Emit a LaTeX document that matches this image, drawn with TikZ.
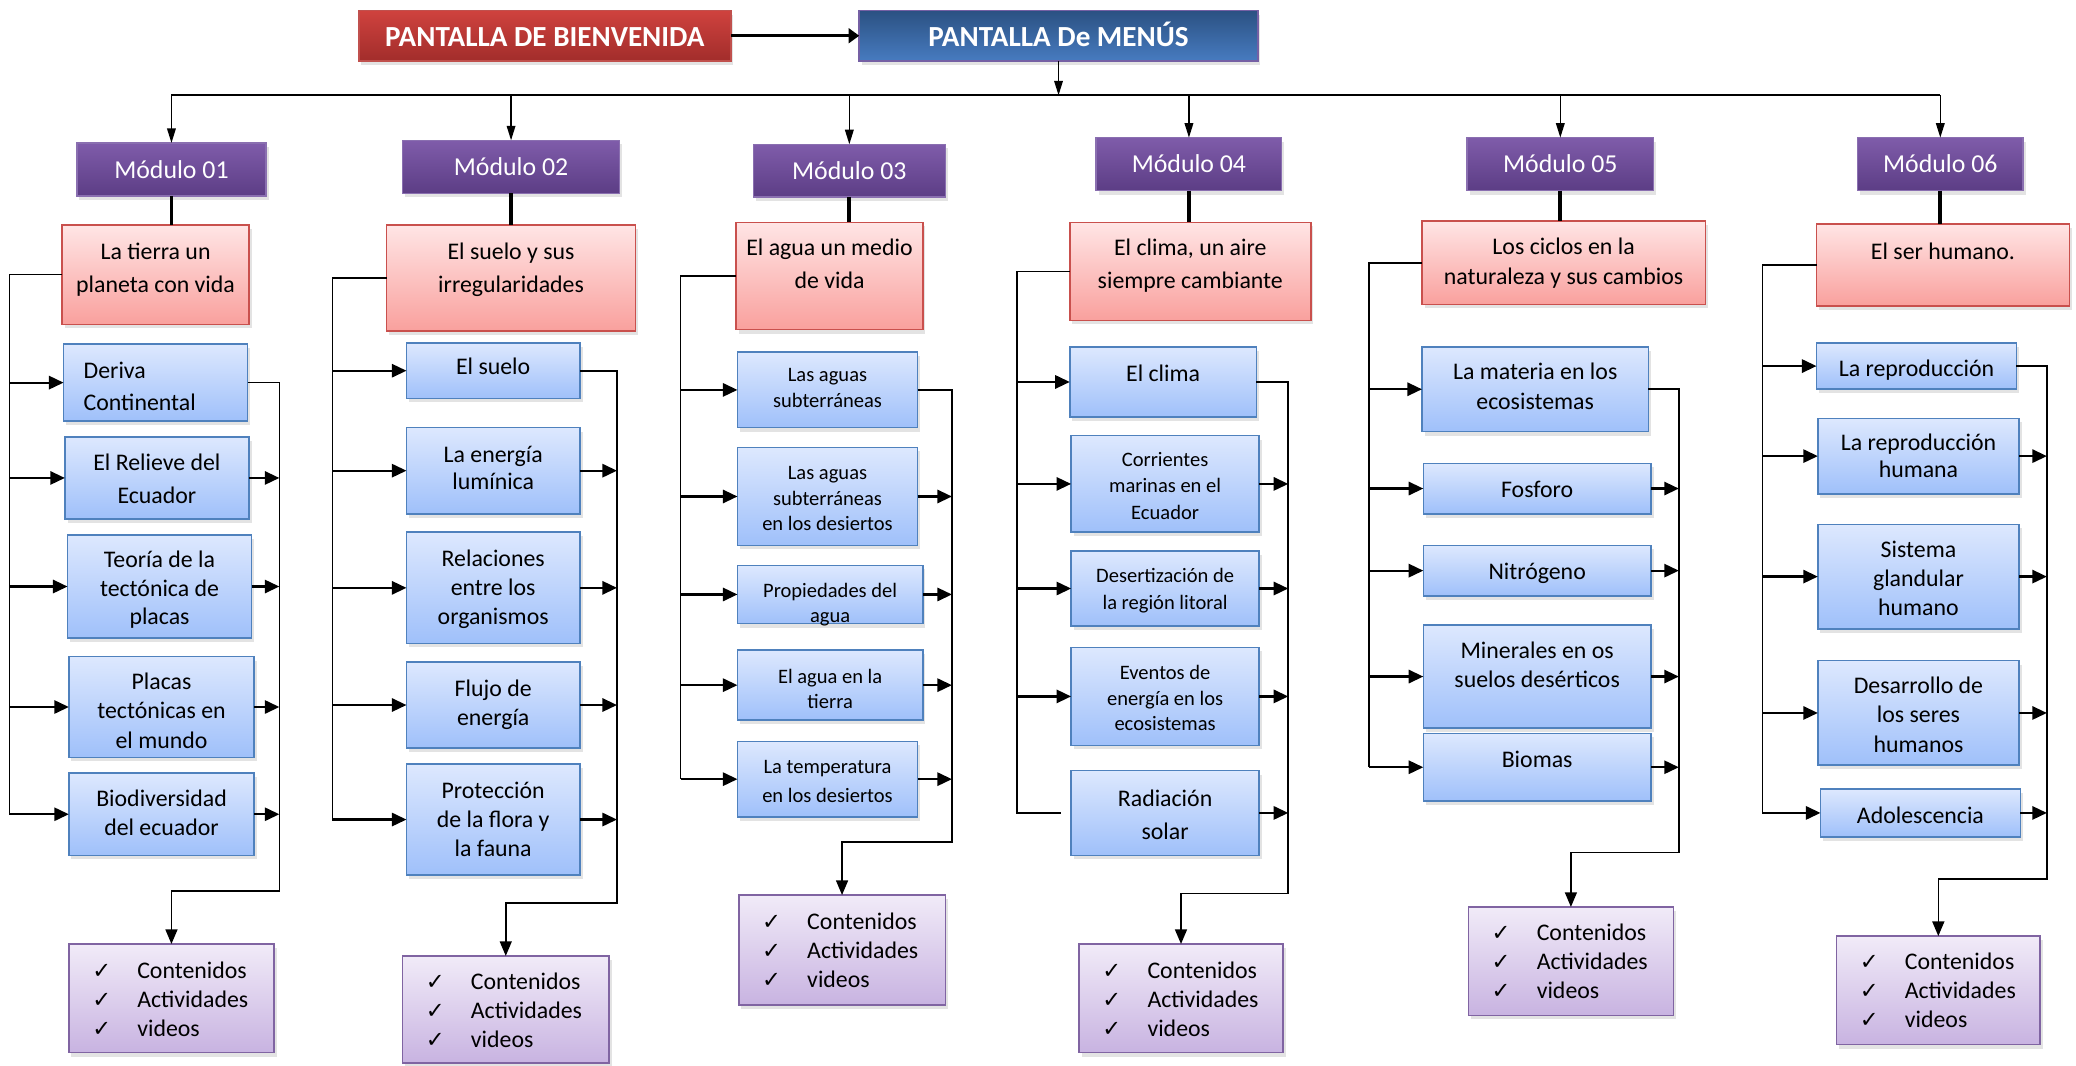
\documentclass[tikz,border=0pt]{standalone}
\usepackage{fontspec}
\setmainfont{Carlito}
\newfontfamily\symfont{DejaVu Sans}
\usetikzlibrary{arrows.meta,fit,shadows}
\definecolor{hredT}{HTML}{CF423E}
\definecolor{hredB}{HTML}{A22D2B}
\definecolor{hredD}{HTML}{C0504D}
\definecolor{hblueT}{HTML}{2B5182}
\definecolor{hblueB}{HTML}{477BC0}
\definecolor{hblueD}{HTML}{7560A4}
\definecolor{modT}{HTML}{7F5CAA}
\definecolor{modB}{HTML}{5C3D85}
\definecolor{modD}{HTML}{8A6FB0}
\definecolor{pinkT}{HTML}{FFE5E5}
\definecolor{pinkB}{HTML}{F9A09D}
\definecolor{pinkD}{HTML}{C9504D}
\definecolor{bluT}{HTML}{DDE8FE}
\definecolor{bluB}{HTML}{9FC0FA}
\definecolor{bluD}{HTML}{4F81BD}
\definecolor{conT}{HTML}{F1EBF8}
\definecolor{conB}{HTML}{C8B3E1}
\definecolor{conD}{HTML}{8064A2}
\newcommand\fs[2]{\fontsize{#1}{#2}\selectfont}
\newcommand\chk{\makebox[34pt][l]{\symfont\fontsize{17}{17}\selectfont ✓}}
\newcommand\mkbox[7]{%
  \node[#2, fit={(#3) (#4)}] (#1) {};
  \node[txt, font=#5] (#1t) at (#1.north |- 0,#6) {\begin{tabular}[t]{@{}c@{}}#7\end{tabular}};
}
\newcommand\mkcont[4]{%
  \node[conbox, fit={(#2) (#3)}] (#1) {};
  \node[txt, anchor=base west, xshift=17.5pt, font=\fs{18}{22}] (#1t) at (#1.west |- 0,#4)
    {\begin{tabular}[t]{@{}l@{}}\chk Contenidos\\\chk Actividades\\\chk videos\end{tabular}};
}
\begin{document}
\begin{tikzpicture}[x=1pt,y=-1pt,
  txt/.style={inner sep=0pt, anchor=base, text=black},
  boxbase/.style={inner sep=0pt, outer sep=0pt, line width=1.2pt,
    drop shadow={shadow xshift=2pt, shadow yshift=-3pt, opacity=0.22}},
  hred/.style={boxbase, draw=hredD, top color=hredT, bottom color=hredB},
  hblue/.style={boxbase, draw=hblueD, top color=hblueT, bottom color=hblueB},
  modbox/.style={boxbase, draw=modD, top color=modT, bottom color=modB},
  pinkbox/.style={boxbase, draw=pinkD, top color=pinkT, bottom color=pinkB},
  bluebox/.style={boxbase, draw=bluD, top color=bluT, bottom color=bluB},
  conbox/.style={boxbase, draw=conD, top color=conT, bottom color=conB},
  htxt/.style={txt, text=white, font=\bfseries\fs{22}{24}},
  arr/.style={line width=1.7pt, -{Triangle[length=11pt,width=10pt]}},
  link/.style={line width=1.1pt},
  linkarr/.style={line width=1.2pt, -{Triangle[length=11pt,width=9pt]}},
  busarr/.style={line width=1.2pt, -{Triangle[length=11pt,width=6.5pt]}},
  bus/.style={line width=1.6pt},
  modlink/.style={line width=2.8pt},
  harr/.style={line width=2.2pt, -{Triangle[length=8pt,width=11pt]}}
]
\useasboundingbox (0,0) rectangle (1568,805);
\fill[white] (0,0) rectangle (1568,805);

% headers
\node[hred, fit={(271,8) (552,46)}] (h1) {};
\node[htxt] (h1t) at (h1.north |- 0,35.5) {PANTALLA DE BIENVENIDA};
\node[hblue, fit={(649,8) (950,46)}] (h2) {};
\node[htxt] (h2t) at (h2.north |- 0,35.5) {PANTALLA De MENÚS};

% modules
\mkbox{m1}{modbox}{58,108}{201,148}{\fs{19.5}{20}}{134.5}{\color{white}Módulo 01}
\mkbox{m2}{modbox}{304,106}{468,146}{\fs{19.5}{20}}{132.5}{\color{white}Módulo 02}
\mkbox{m3}{modbox}{569,109}{714,149}{\fs{19.5}{20}}{135.5}{\color{white}Módulo 03}
\mkbox{m4}{modbox}{828,104}{968,144}{\fs{19.5}{20}}{130.5}{\color{white}Módulo 04}
\mkbox{m5}{modbox}{1108,104}{1249,144}{\fs{19.5}{20}}{130.5}{\color{white}Módulo 05}
\mkbox{m6}{modbox}{1403,104}{1528,144}{\fs{19.5}{20}}{130.5}{\color{white}Módulo 06}

% column 1
\mkbox{r1}{pinkbox}{47,170}{188,245}{\fs{18}{25}}{196}{La tierra un\\planeta con vida}
\node[bluebox, fit={(48,260) (187,318)}] (b11) {};
\node[txt, anchor=base west, font=\fs{18}{24}] (b11t) at (63,286) {\begin{tabular}[t]{@{}l@{}}Deriva\\Continental\end{tabular}};
\mkbox{b12}{bluebox}{49,330}{188,392}{\fs{18}{25}}{355}{El Relieve del\\Ecuador}
\mkbox{b13}{bluebox}{51,404}{190,482}{\fs{18}{21.5}}{429}{Teoría de la\\tectónica de\\placas}
\mkbox{b14}{bluebox}{52,496}{192,572}{\fs{18}{22}}{521}{Placas\\tectónicas en\\el mundo}
\mkbox{b15}{bluebox}{52,584}{192,646}{\fs{18}{22}}{609}{Biodiversidad\\del ecuador}
\mkcont{c1}{52,713}{207,795}{739}

% column 2
\mkbox{r2}{pinkbox}{292,170}{480,250}{\fs{18}{25}}{196}{El suelo y sus\\irregularidades}
\mkbox{b21}{bluebox}{307,259}{438,301}{\fs{18}{22}}{283}{El suelo}
\mkbox{b22}{bluebox}{307,323}{438,388}{\fs{18}{21}}{349}{La energía\\lumínica}
\mkbox{b23}{bluebox}{307,402}{438,486}{\fs{18}{22}}{428}{Relaciones\\entre los\\organismos}
\mkbox{b24}{bluebox}{307,500}{438,565}{\fs{18}{22}}{526}{Flujo de\\energía}
\mkbox{b25}{bluebox}{307,577}{438,661}{\fs{18}{22}}{603}{Protección\\de la flora y\\la fauna}
\mkcont{c2}{304,722}{460,803}{747}

% column 3
\mkbox{r3}{pinkbox}{556,168}{697,249}{\fs{18}{25}}{193}{El agua un medio\\de vida}
\mkbox{b31}{bluebox}{557,266}{693,323}{\fs{15.5}{20}}{288}{Las aguas\\subterráneas}
\mkbox{b32}{bluebox}{557,338}{693,412}{\fs{15.5}{19.5}}{362}{Las aguas\\subterráneas\\en los desiertos}
\mkbox{b33}{bluebox}{557,427}{697,471}{\fs{15.5}{19}}{451}{Propiedades del\\agua}
\mkbox{b34}{bluebox}{557,491}{697,544}{\fs{15.5}{19.5}}{516}{El agua en la\\tierra}
\mkbox{b35}{bluebox}{557,560}{693,617}{\fs{15.5}{22}}{584}{La temperatura\\en los desiertos}
\mkcont{c3}{558,676}{714,759}{702}

% column 4
\mkbox{r4}{pinkbox}{808,168}{990,242}{\fs{18}{25}}{193}{El clima, un aire\\siempre cambiante}
\mkbox{b41}{bluebox}{808,262}{949,315}{\fs{18}{22}}{288}{El clima}
\mkbox{b42}{bluebox}{809,329}{951,402}{\fs{15.5}{20}}{352}{Corrientes\\marinas en el\\Ecuador}
\mkbox{b43}{bluebox}{809,416}{951,473}{\fs{15.5}{20}}{440}{Desertización de\\la región litoral}
\mkbox{b44}{bluebox}{809,489}{951,563}{\fs{15.5}{19.5}}{513}{Eventos de\\energía en los\\ecosistemas}
\mkbox{b45}{bluebox}{809,582}{951,646}{\fs{18}{25}}{609}{Radiación\\solar}
\mkcont{c4}{815,713}{969,795}{739}

% column 5
\mkbox{r5}{pinkbox}{1074,167}{1288,230}{\fs{18}{23}}{192}{Los ciclos en la\\naturaleza y sus cambios}
\mkbox{b51}{bluebox}{1074,262}{1245,326}{\fs{18}{22}}{287}{La materia en los\\ecosistemas}
\mkbox{b52}{bluebox}{1075,350}{1247,388}{\fs{18}{22}}{376}{Fosforo}
\mkbox{b53}{bluebox}{1075,412}{1247,450}{\fs{18}{22}}{438}{Nitrógeno}
\mkbox{b54}{bluebox}{1075,472}{1247,550}{\fs{18}{22}}{497}{Minerales en os\\suelos desérticos}
\mkbox{b55}{bluebox}{1075,554}{1247,605}{\fs{18}{22}}{580}{Biomas}
\mkcont{c5}{1109,685}{1264,767}{710}

% column 6
\mkbox{r6}{pinkbox}{1372,169}{1563,231}{\fs{18}{25}}{196}{El ser humano.}
\mkbox{b61}{bluebox}{1372,259}{1523,294}{\fs{18}{22}}{284}{La reproducción}
\mkbox{b62}{bluebox}{1373,316}{1525,373}{\fs{18}{21}}{340}{La reproducción\\humana}
\mkbox{b63}{bluebox}{1373,396}{1525,475}{\fs{18}{22}}{421}{Sistema\\glandular\\humano}
\mkbox{b64}{bluebox}{1373,499}{1525,578}{\fs{18}{22}}{524}{Desarrollo de\\los seres\\humanos}
\mkbox{b65}{bluebox}{1375,596}{1526,632}{\fs{18}{22}}{622}{Adolescencia}
\mkcont{c6}{1387,707}{1541,789}{732}

% top connectors
\coordinate (busY) at (0,72);
\draw[harr] (h1.east) -- (h2.west);
\draw[busarr] (h2.south) -- (h2.south |- busY);
\draw[bus] (m1.north |- busY) -- (m6.north |- busY);
\foreach \mm in {m1,m2,m3,m4,m5,m6} \draw[busarr] (\mm.north |- busY) -- (\mm.north);
\foreach \ci in {1,...,6} \draw[modlink] (m\ci.south) -- (m\ci.south |- r\ci.north);

% column wiring
\coordinate (L1) at (7,0);    \coordinate (K1) at (211,673);
\coordinate (L2) at (251,0);  \coordinate (K2) at (466,682);
\coordinate (L3) at (514,0);  \coordinate (K3) at (719,636);
\coordinate (L4) at (768,0);  \coordinate (K4) at (973,675);
\coordinate (L5) at (1034,0); \coordinate (K5) at (1268,644);
\coordinate (L6) at (1331,0); \coordinate (K6) at (1546,664);

\foreach \ci in {1,2,3,5,6} {
  \draw[link] (r\ci.west) -| (L\ci |- b\ci5.west);
  \foreach \ri in {1,...,5} \draw[arr] (L\ci |- b\ci\ri.west) -- (b\ci\ri.west);
}
\draw[link] (r4.west) -| (L4 |- b45.west) -- ([xshift=-8pt]b45.west);
\foreach \ri in {1,...,4} \draw[arr] (L4 |- b4\ri.west) -- (b4\ri.west);

\foreach \ci in {1,...,6} {
  \draw[linkarr] (b\ci1.east) -| (K\ci) -| (c\ci.north);
  \foreach \ri in {2,...,5} \draw[arr] (b\ci\ri.east) -- (K\ci |- b\ci\ri.east);
}
\end{tikzpicture}
\end{document}
